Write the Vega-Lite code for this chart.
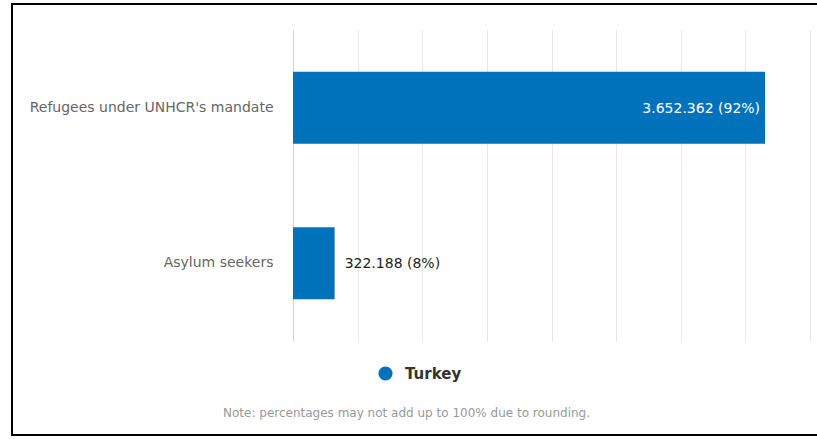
{
  "$schema": "https://vega.github.io/schema/vega-lite/v6.json",
  "width": 806,
  "height": 431,
  "autosize": {"type": "none"},
  "padding": {"left": 12, "top": 4, "right": 0, "bottom": 4},
  "background": "white",
  "config": {
    "view": {"stroke": "black", "strokeWidth": 2},
    "font": "DejaVu Sans"
  },
  "data": {
    "values": [
      {"category": "Refugees under UNHCR's mandate", "value": 3652362, "label": "3.652.362 (92%)", "country": "Turkey"},
      {"category": "Asylum seekers", "value": 322188, "label": "322.188 (8%)", "country": "Turkey"}
    ]
  },
  "encoding": {
    "y": {
      "field": "category",
      "type": "nominal",
      "sort": null,
      "scale": {"range": [26, 337], "paddingInner": 0.537, "paddingOuter": 0.268},
      "axis": {
        "title": null,
        "domain": false,
        "ticks": false,
        "grid": false,
        "offset": -261,
        "labelPadding": 0,
        "labelLimit": 400,
        "labelFontSize": 14,
        "labelColor": "#666666"
      }
    },
    "x": {
      "field": "value",
      "type": "quantitative",
      "scale": {"domain": [0, 4000000], "range": [281, 798], "nice": false},
      "axis": {
        "orient": "top",
        "values": [0, 500000, 1000000, 1500000, 2000000, 2500000, 3000000, 3500000, 4000000],
        "labels": false,
        "ticks": false,
        "domain": false,
        "grid": true,
        "gridColor": {"condition": {"test": "datum.value === 0", "value": "#ccd6eb"}, "value": "#e6e6e6"},
        "title": "Note: percentages may not add up to 100% due to rounding.",
        "titleFontSize": 12,
        "titleFontWeight": "normal",
        "titleColor": "#999999",
        "titleX": 394,
        "titleY": 408,
        "titleBaseline": "middle",
        "titleAlign": "center",
        "titleAngle": 0
      }
    }
  },
  "layer": [
    {
      "mark": {"type": "bar", "cornerRadius": 0},
      "encoding": {
        "color": {
          "field": "country",
          "type": "nominal",
          "scale": {"range": ["#0072bc"]},
          "legend": {
            "title": null,
            "orient": "none",
            "legendX": 366,
            "legendY": 362,
            "symbolType": "circle",
            "symbolSize": 200,
            "symbolStrokeWidth": 0,
            "labelFontSize": 15,
            "labelFontWeight": "bold",
            "labelColor": "#333333",
            "labelOffset": 12
          }
        }
      }
    },
    {
      "transform": [{"filter": "datum.value > 1000000"}],
      "mark": {"type": "text", "align": "right", "dx": -5, "dy": 1, "fontSize": 14, "color": "white"},
      "encoding": {"text": {"field": "label"}}
    },
    {
      "transform": [{"filter": "datum.value <= 1000000"}],
      "mark": {"type": "text", "align": "left", "dx": 10, "dy": 1, "fontSize": 14, "color": "#222222"},
      "encoding": {"text": {"field": "label"}}
    }
  ]
}
